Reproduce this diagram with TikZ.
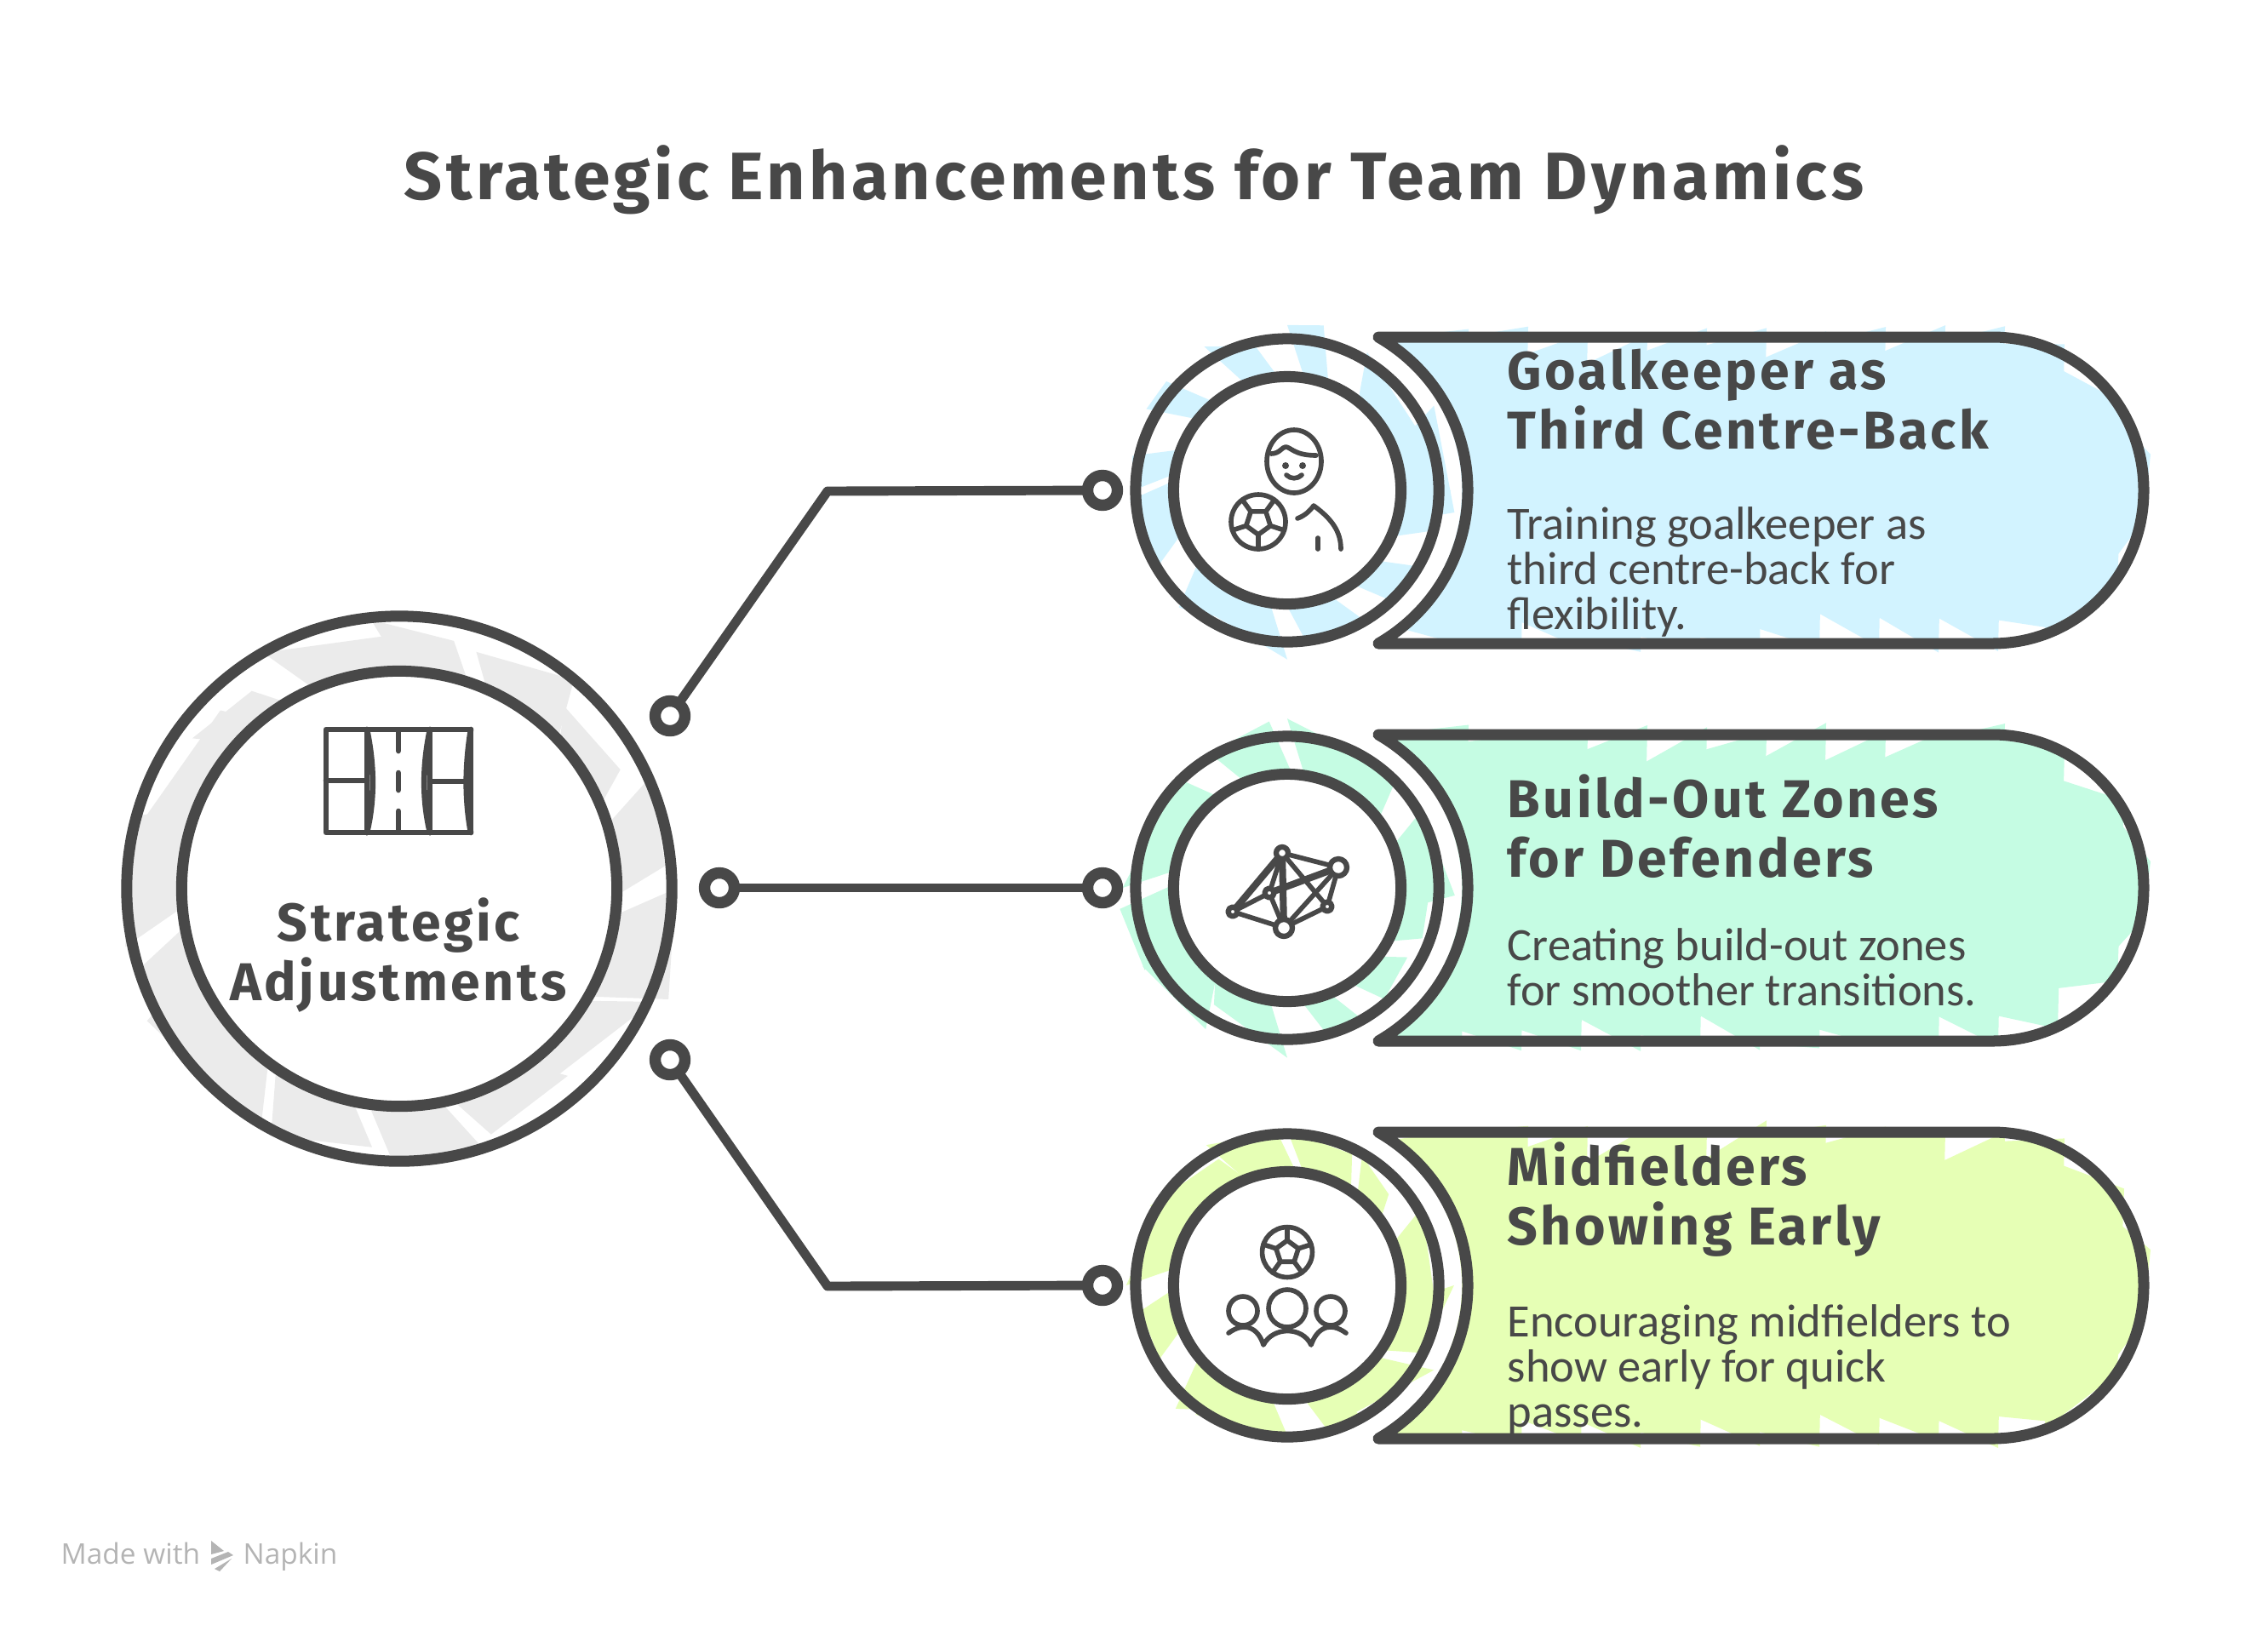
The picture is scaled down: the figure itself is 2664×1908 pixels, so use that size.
\documentclass[tikz,border=0pt]{standalone}
\usepackage{fontspec}
\setmainfont{Carlito}
\newfontfamily\headfont[LetterSpace=5.5]{Fira Sans Bold}
\newfontfamily\bodyfont{Carlito}
\newfontfamily\markfont{Open Sans}
\definecolor{ink}{HTML}{484848}
\definecolor{skyfill}{HTML}{D2F3FF}
\definecolor{mintfill}{HTML}{C5FCE3}
\definecolor{limefill}{HTML}{E6FFB5}
\definecolor{hubfill}{HTML}{EBEBEB}
\definecolor{markgrey}{HTML}{B4B4B4}
\newcommand{\pillpath}{(1619,-180) -- (2340,-180) .. controls (2440,-180) and (2518,-100) .. (2518,0) .. controls (2518,100) and (2440,180) .. (2340,180) -- (1619,180) .. controls (1683,143) and (1724,76) .. (1724,0) .. controls (1724,-76) and (1683,-143) .. (1619,-180) -- cycle}
\begin{document}
\begin{tikzpicture}[x=0.01cm,y=-0.01cm,line join=round,line cap=round]
  \tikzstyle{ringline}=[circle,draw=ink,line width=3.7pt,outer sep=0pt,inner sep=0pt]
  \tikzstyle{dot}=[circle,draw=ink,fill=white,line width=3.8pt,minimum size=0.35cm,inner sep=0pt,outer sep=0pt]
  \tikzstyle{wire}=[draw=ink,line width=3.1pt]
  \tikzstyle{icon}=[draw=ink,line width=1.6pt]
  \tikzstyle{fieldline}=[draw=ink,line width=1.9pt]
  \tikzstyle{headtext}=[text=ink,inner sep=0pt,align=left,anchor=north west,font=\headfont\fontsize{17.8}{20}\selectfont]
  \tikzstyle{bodytext}=[text=ink,inner sep=0pt,align=left,anchor=north west,font=\bodyfont\fontsize{15.5}{15}\selectfont]
  \tikzstyle{netnode}=[circle,draw=ink,fill=white,line width=1.8pt,inner sep=0pt,outer sep=0pt]
  \tikzset{football/.pic={
    \draw[icon] (0,0) circle (32);
    \draw[icon] (90:15) -- (162:15) -- (234:15) -- (306:15) -- (18:15) -- cycle;
    \foreach \a in {18,90,162,234,306}
      \draw[icon] (\a:15) -- (\a:32);
  }}
  \useasboundingbox (0,0) rectangle (2664,1908);
  \pgfmathsetseed{11}

  \begin{scope}[shift={(469,1044)}]
    \foreach \a in {0,24,...,336}{
      \pgfmathsetmacro{\ro}{285+rnd*60}
      \pgfmathsetmacro{\rt}{285+rnd*60}
      \pgfmathsetmacro{\da}{16+rnd*18}
      \fill[hubfill] ({\a+10}:235) -- (\a:\ro) -- ({\a+\da}:\rt) -- ({\a+\da+10}:235) -- cycle;
    }
  \end{scope}
  \node[ringline,minimum size=6.4cm] (hub-outer) at (469,1044) {};
  \node[ringline,fill=white,minimum size=5.11cm] (hub) at (469,1044) {};
  \node[text=ink,inner sep=0pt,align=center,font=\headfont\fontsize{17.8}{20}\selectfont] (hub-label) at (468,1122) {Strategic\\Adjustments};

  \foreach \name/\yc/\tint in {goal/576/skyfill,build/1043/mintfill,mid/1510/limefill}{
    \begin{scope}[shift={(0,\yc)}]
      \foreach \x in {1640,1710,...,2500}{
        \pgfmathsetmacro{\xb}{min(\x+85,2526)}
        \pgfmathsetmacro{\ha}{(\x>2340 ? 190*sqrt(max(1-((\x-2340)/190)^2,0)) : 190)}
        \pgfmathsetmacro{\hb}{(\xb>2340 ? 190*sqrt(max(1-((\xb-2340)/190)^2,0)) : 190)}
        \pgfmathsetmacro{\ta}{\ha-8-rnd*50}
        \pgfmathsetmacro{\tb}{\hb+4-rnd*14}
        \pgfmathsetmacro{\ba}{\ha-8-rnd*50}
        \pgfmathsetmacro{\bb}{\hb+4-rnd*14}
        \fill[\tint] (\x,-\ta) -- (\xb,-\tb) -- ({\xb-8},\bb) -- ({\x-8},\ba) -- cycle;
      }
      \fill[white] (1512,0) circle (205);
      \begin{scope}[shift={(1512,0)}]
        \foreach \a in {0,30,...,330}{
          \pgfmathsetmacro{\ro}{160+rnd*40}
          \pgfmathsetmacro{\rt}{160+rnd*40}
          \pgfmathsetmacro{\da}{12+rnd*28}
          \fill[\tint] ({\a+12}:120) -- (\a:\ro) -- ({\a+\da}:\rt) -- ({\a+\da+12}:120) -- cycle;
        }
      \end{scope}
      \draw[draw=ink,line width=3.7pt] \pillpath;
    \end{scope}
    \node[ringline,minimum size=3.56cm] (\name-outer) at (1512,\yc) {};
    \node[ringline,fill=white,minimum size=2.67cm] (\name-inner) at (1512,\yc) {};
    \node[dot] (\name-dot) at (1295,\yc) {};
  }

  \node[dot] (hub-a) at (787,841) {};
  \node[dot] (hub-b) at (845,1043) {};
  \node[dot] (hub-c) at (787,1245) {};
  \coordinate (bend-a) at (972,577);
  \coordinate (bend-c) at (972,1511);
  \draw[wire] (hub-a) -- (bend-a) -- (goal-dot);
  \draw[wire] (hub-b) -- (build-dot);
  \draw[wire] (hub-c) -- (bend-c) -- (mid-dot);

  \node[text=ink,inner sep=0pt,font=\headfont\fontsize{22.4}{28}\selectfont] (title) at (1332,211) {Strategic Enhancements for Team Dynamics};

  \node[headtext] (goal-head) at (1770,409) {Goalkeeper as\\Third Centre-Back};
  \node[bodytext] (goal-body) at (1770,595) {Training goalkeeper as\\third centre-back for\\flexibility.};
  \node[headtext] (build-head) at (1770,909) {Build-Out Zones\\for Defenders};
  \node[bodytext] (build-body) at (1770,1090) {Creating build-out zones\\for smoother transitions.};
  \node[headtext] (mid-head) at (1770,1341) {Midfielders\\Showing Early};
  \node[bodytext] (mid-body) at (1770,1532) {Encouraging midfielders to\\show early for quick\\passes.};

  \draw[fieldline] (383,857) rectangle (553,978);
  \draw[fieldline] (431,857) -- (431,978) (505,857) -- (505,978);
  \draw[fieldline] (431,857) .. controls (440,900) and (440,940) .. (431,978);
  \draw[fieldline] (505,857) .. controls (496,900) and (496,940) .. (505,978);
  \draw[fieldline] (553,857) .. controls (546,900) and (546,940) .. (553,978);
  \draw[fieldline] (383,917) -- (431,917) (505,918) -- (548,918);
  \draw[fieldline] (468,860) -- (468,882) (468,908) -- (468,928) (468,953) -- (468,975);

  \draw[icon] (1520,542) ellipse (32 and 37);
  \draw[icon] (1493,533) .. controls (1503,533) and (1506,525) .. (1510,525) .. controls (1516,525) and (1520,535) .. (1546,535);
  \fill[ink] (1510,547) circle (4) (1530,547) circle (4);
  \draw[icon] (1511,558) .. controls (1516,563) and (1524,563) .. (1529,558);
  \pic at (1478,613) {football};
  \draw[icon] (1524,609) .. controls (1532,606) and (1538,601) .. (1543,594) .. controls (1565,610) and (1575,625) .. (1575,645);
  \draw[icon] (1548,632) -- (1548,645);

  \foreach \name/\x/\y in {a/1506/1002,b/1572/1019,c/1559/1065,d/1508/1090,e/1491/1049,f/1448/1071}
    \coordinate (net-\name) at (\x,\y);
  \foreach \from/\to in {a/b,a/e,a/c,b/c,b/d,e/f,e/d,f/d,c/d}
    \draw[icon] (net-\from) -- (net-\to);
  \foreach \from/\to in {a/f,a/d,b/e}
    \draw[icon,line width=2.3pt] (net-\from) -- (net-\to);
  \foreach \name/\x/\y/\s in {a/1506/1002/0.14,b/1572/1019/0.2,c/1559/1065/0.11,d/1508/1090/0.2,e/1491/1049/0.11,f/1448/1071/0.11}
    \node[netnode,minimum size=\s cm] (nd-\name) at (\x,\y) {};

  \pic[scale=0.92,rotate=180] at (1512,1471) {football};
  \draw[icon] (1460,1540) circle (17);
  \draw[icon] (1512,1537) circle (22);
  \draw[icon] (1563,1540) circle (17);
  \draw[icon] (1443,1566) .. controls (1462,1552) and (1478,1560) .. (1484,1580) .. controls (1495,1558) and (1530,1558) .. (1540,1580) .. controls (1547,1560) and (1562,1552) .. (1581,1566);

  \node[text=markgrey,inner sep=0pt,anchor=base west,font=\markfont\fontsize{9.5}{11}\selectfont] (made) at (71,1837) {Made with};
  \node[text=markgrey,inner sep=0pt,anchor=base west,font=\markfont\fontsize{9.5}{11}\selectfont] (napkin) at (285,1837) {Napkin};
  \fill[markgrey] (248,1810) -- (263,1822) -- (248,1826) -- cycle (248,1831) -- (268,1823) -- (274,1827) -- (248,1838) -- cycle (252,1843) -- (272,1831) -- (258,1846) -- cycle;
\end{tikzpicture}
\end{document}
